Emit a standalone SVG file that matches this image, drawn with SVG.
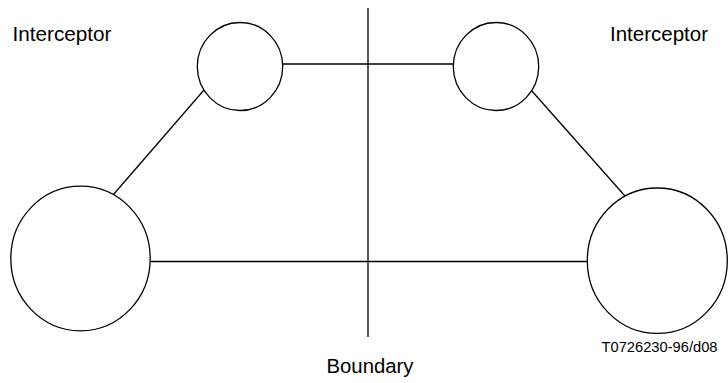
<svg xmlns="http://www.w3.org/2000/svg" width="728" height="383" viewBox="0 0 728 383">
<style>
.n{fill:#fff;stroke:#000;stroke-width:1.3}
.c{stroke:#000;stroke-width:1.3;fill:none}
.t{font-family:"Liberation Sans",Arial,sans-serif;font-size:19.5px;fill:#000}
.s{font-family:"Liberation Sans",Arial,sans-serif;font-size:15.5px;fill:#000}
</style>
<rect width="728" height="383" fill="#fff"/>
<g id="connectors">
<line class="c" x1="368" y1="8" x2="368" y2="337"/>
<line class="c" x1="282" y1="64" x2="454" y2="64"/>
<line class="c" x1="150" y1="261.5" x2="588" y2="261.5"/>
<line class="c" x1="204" y1="90" x2="113" y2="195"/>
<line class="c" x1="531" y1="90" x2="625" y2="196"/>
</g>
<g id="node-small-left"><ellipse class="n" cx="240" cy="66.5" rx="42.7" ry="44"/></g>
<g id="node-small-right"><ellipse class="n" cx="496" cy="66.5" rx="42.7" ry="44"/></g>
<g id="node-big-left"><ellipse class="n" cx="80.5" cy="258.5" rx="69.7" ry="72.3"/></g>
<g id="node-big-right"><ellipse class="n" cx="657.3" cy="260.7" rx="70" ry="72.7"/></g>
<g id="labels">
<text class="t" x="12.5" y="41" textLength="99" lengthAdjust="spacingAndGlyphs">Interceptor</text>
<text class="t" x="610" y="41" textLength="98" lengthAdjust="spacingAndGlyphs">Interceptor</text>
<text class="t" x="326.5" y="373" textLength="87" lengthAdjust="spacingAndGlyphs">Boundary</text>
<text class="s" x="601.5" y="351.5" textLength="116" lengthAdjust="spacingAndGlyphs">T0726230-96/d08</text>
</g>
</svg>
